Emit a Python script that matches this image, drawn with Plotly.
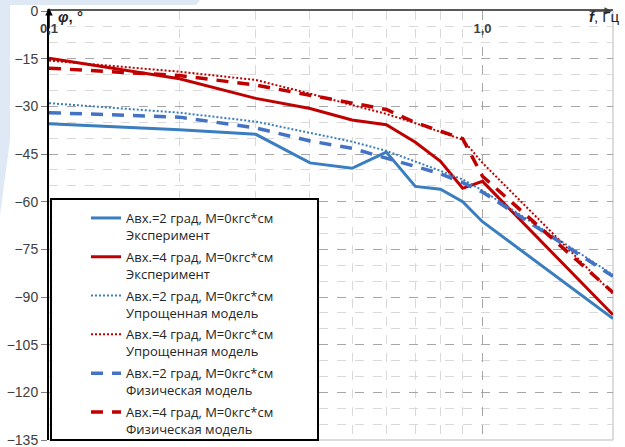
import plotly.graph_objects as go
import math

# ---------------- data ----------------
freq = [0.1, 0.2, 0.3, 0.4, 0.5, 0.6, 0.7, 0.8, 0.9, 1.0, 2.0]

exp_2 = [-35.5, -37.4, -38.8, -47.8, -49.5, -44.4, -55.2, -56.1, -60.0, -66.3, -96.8]
exp_4 = [-14.9, -21.3, -27.5, -30.7, -34.3, -35.8, -41.3, -47.3, -55.8, -53.6, -95.6]
simp_2 = [-29.0, -32.0, -34.8, -38.3, -41.1, -44.0, -47.3, -50.3, -53.0, -56.5, -83.0]
simp_4 = [-15.6, -19.1, -21.7, -26.0, -29.6, -32.4, -35.3, -38.0, -40.5, -47.8, -89.0]
phys_2 = [-32.0, -33.4, -36.8, -40.9, -43.2, -46.3, -48.9, -51.2, -54.0, -57.0, -83.5]
phys_4 = [-18.0, -20.3, -23.3, -26.5, -28.8, -31.0, -35.1, -37.8, -40.2, -52.0, -88.6]

names = [
    "Авх.=2 град, М=0кгс*см<br>Эксперимент",
    "Авх.=4 град, М=0кгс*см<br>Эксперимент",
    "Авх.=2 град, М=0кгс*см<br>Упрощенная модель",
    "Авх.=4 град, М=0кгс*см<br>Упрощенная модель",
    "Авх.=2 град, М=0кгс*см<br>Физическая модель",
    "Авх.=4 град, М=0кгс*см<br>Физическая модель",
]

y_ticks = [0, -15, -30, -45, -60, -75, -90, -105, -120, -135]
x_ticks = [0.1, 1.0]
x_ticktext = ["0,1", "1,0"]
x_minor = [0.2, 0.3, 0.4, 0.5, 0.6, 0.7, 0.8, 0.9]

BLUE = "#3a7ebf"
BLUE_D = "#4472c4"
RED = "#c00000"

styles = [
    dict(color=BLUE, width=3, dash="solid"),
    dict(color=RED, width=3, dash="solid"),
    dict(color=BLUE, width=2, dash="2px,2px"),
    dict(color=RED, width=2, dash="2px,2px"),
    dict(color=BLUE_D, width=3.5, dash="12px,9px"),
    dict(color=RED, width=3.5, dash="12px,9px"),
]
series = [exp_2, exp_4, simp_2, simp_4, phys_2, phys_4]

fig = go.Figure()
for i, (s, st, nm) in enumerate(zip(series, styles, names)):
    fig.add_trace(go.Scatter(x=freq, y=s, mode="lines", name=nm, line=st,
                             legendgroup=f"g{i}"))

W, H = 625, 447
ml, mr, mt, mb = 49, 12, 11, 7
pw, ph = W - ml - mr, H - mt - mb


def px_x(p):
    return (p - ml) / pw


def px_y(p):
    return 1 - (p - mt) / ph


font_family = "Liberation Sans, Arial, sans-serif"
legend_family = "Open Sans, Liberation Sans, sans-serif"

fig.update_layout(
    width=W, height=H,
    margin=dict(l=ml, r=mr, t=mt, b=mb, autoexpand=False),
    paper_bgcolor="white",
    plot_bgcolor="white",
    font=dict(family=font_family, color="#404040"),
    showlegend=True,
    legend=dict(
        x=px_x(86), y=px_y(203), xanchor="left", yanchor="top",
        bgcolor="rgba(0,0,0,0)", borderwidth=0,
        font=dict(size=13, color="#262626", family=legend_family),
        valign="top", tracegroupgap=2,
    ),
    xaxis=dict(
        type="log", range=[math.log10(0.1), math.log10(2.0)],
        side="top", showline=True, linecolor="#595959", linewidth=2,
        tickvals=x_ticks, ticktext=x_ticktext,
        ticklabelposition="inside", ticklabeloverflow="allow",
        ticklabelstandoff=13,
        ticks="", tickfont=dict(size=13, color="#404040", family=font_family, weight="bold"),
        showgrid=True, gridcolor="#a6a6a6", griddash="dash", gridwidth=1,
        minor=dict(tickvals=x_minor, showgrid=True, gridcolor="#d9d9d9",
                   griddash="dash", gridwidth=1, ticks=""),
        zeroline=False,
    ),
    yaxis=dict(
        range=[-135, 0], tickvals=y_ticks,
        showline=True, linecolor="black", linewidth=2,
        ticks="outside", ticklen=6, tickcolor="#808080",
        ticklabeloverflow="allow",
        tickfont=dict(size=14, color="#404040", family=font_family),
        showgrid=True, gridcolor="#a6a6a6", griddash="dash", gridwidth=1,
        minor=dict(dtick=5, showgrid=True, gridcolor="#d9d9d9",
                   griddash="dash", gridwidth=1, ticks=""),
        zeroline=False,
    ),
)

# faint slide-background decoration at top-left
fig.add_shape(type="path", xref="paper", yref="paper",
              path=(f"M{px_x(0)},{px_y(0)} L{px_x(200)},{px_y(0)} L{px_x(196)},{px_y(5)} "
                    f"L{px_x(10)},{px_y(5)} L{px_x(10)},{px_y(140)} L{px_x(0)},{px_y(215)} Z"),
              fillcolor="#dfe9f5", line=dict(width=0), layer="below")

# light border on right and bottom of plot area
fig.add_shape(type="line", xref="paper", yref="paper", x0=1, x1=1, y0=0, y1=1,
              line=dict(color="#d0d0d0", width=1.5), layer="below")
fig.add_shape(type="line", xref="paper", yref="paper", x0=0, x1=1, y0=0, y1=0,
              line=dict(color="#d0d0d0", width=1.5), layer="below")

# legend box
fig.add_shape(type="rect", xref="paper", yref="paper",
              x0=px_x(51), x1=px_x(318), y0=px_y(440), y1=px_y(199),
              line=dict(color="black", width=2), fillcolor="white", layer="above")

# axis arrows
fig.add_annotation(xref="paper", yref="paper", x=0, y=px_y(8), ax=0, ay=22,
                   showarrow=True, arrowhead=2, arrowsize=1, arrowwidth=1.5,
                   arrowcolor="black", text="", standoff=0)
fig.add_annotation(xref="paper", yref="paper", x=px_x(612), y=1, ax=-24, ay=0,
                   showarrow=True, arrowhead=2, arrowsize=1, arrowwidth=1.5,
                   arrowcolor="#404040", text="", standoff=0)

# axis titles
fig.add_annotation(xref="paper", yref="paper", x=px_x(56), y=px_y(16),
                   xanchor="left", yanchor="middle", showarrow=False,
                   text="<b><i>φ</i>, °</b>",
                   font=dict(size=15, color="#262626", family=font_family))
fig.add_annotation(xref="paper", yref="paper", x=px_x(587), y=px_y(17),
                   xanchor="left", yanchor="middle", showarrow=False,
                   text="<b><i>f</i></b>, Гц",
                   font=dict(size=15, color="#262626", family=font_family))

fig.write_html("out.html")
